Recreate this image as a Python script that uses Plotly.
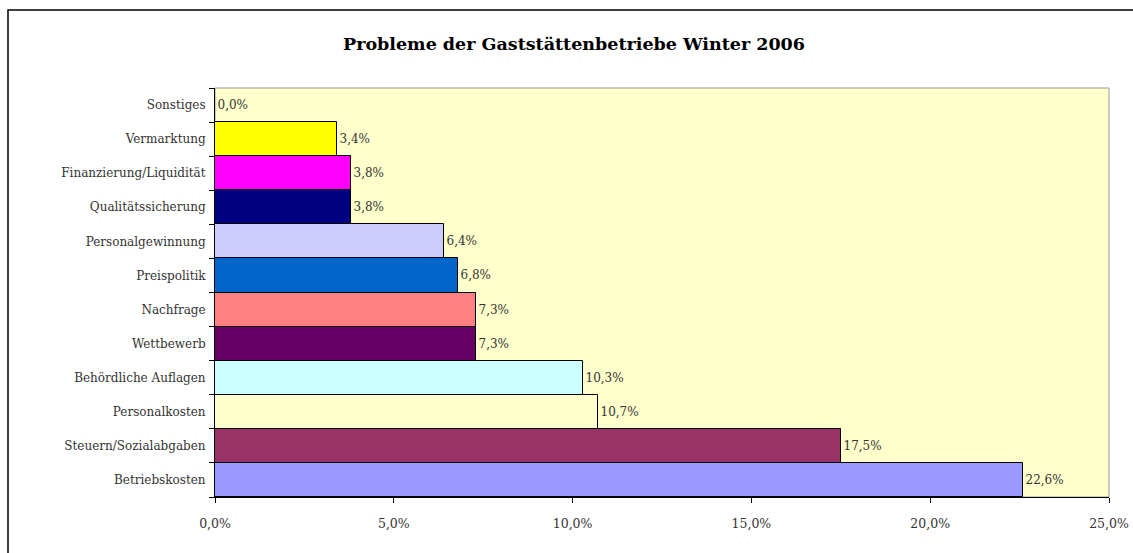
import plotly.graph_objects as go

categories = [
    "Betriebskosten",
    "Steuern/Sozialabgaben",
    "Personalkosten",
    "Behördliche Auflagen",
    "Wettbewerb",
    "Nachfrage",
    "Preispolitik",
    "Personalgewinnung",
    "Qualitätssicherung",
    "Finanzierung/Liquidität",
    "Vermarktung",
    "Sonstiges",
]
shares_pct = [22.6, 17.5, 10.7, 10.3, 7.3, 7.3, 6.8, 6.4, 3.8, 3.8, 3.4, 0.0]
bar_colors = [
    "#9999FF", "#993366", "#FFFFCC", "#CCFFFF", "#660066", "#FF8080",
    "#0066CC", "#CCCCFF", "#000080", "#FF00FF", "#FFFF00", "#00FFFF",
]
x_ticks = [0, 0.05, 0.10, 0.15, 0.20, 0.25]

W, H = 1133, 553
L, R, T, B = 215, 1109, 88, 497
serif = "DejaVu Serif, Liberation Serif, serif"

fig = go.Figure(
    go.Bar(
        y=categories,
        x=[v / 100 for v in shares_pct],
        orientation="h",
        marker={"color": bar_colors, "line": {"color": "black", "width": 1}},
        texttemplate="%{x:.1%}",
        textposition="outside",
        textfont={"family": serif, "size": 12, "color": "#333"},
        cliponaxis=False,
        hoverinfo="skip",
    )
)

pw, ph = R - L, B - T
# outer chart frame, like the Excel chart area
fig.add_shape(
    type="rect", xref="paper", yref="paper",
    x0=(8 - L) / pw, x1=(W + 10 - L) / pw,
    y0=(B - H - 10) / ph, y1=(B - 10) / ph,
    line={"color": "black", "width": 1.5}, fillcolor="rgba(0,0,0,0)",
)
# grey plot-area border
fig.add_shape(
    type="rect", xref="paper", yref="paper", x0=0, x1=1, y0=0, y1=1,
    line={"color": "#999", "width": 1}, layer="below",
)

fig.update_layout(
    width=W,
    height=H,
    separators=",.",
    title={
        "text": "<b>Probleme der Gaststättenbetriebe Winter 2006</b>",
        "font": {"family": serif, "size": 17.5, "color": "black"},
        "x": 574 / W,
        "xanchor": "center",
        "y": 1 - 44 / H,
        "yanchor": "middle",
    },
    margin={"l": L, "r": W - R, "t": T, "b": H - B},
    paper_bgcolor="white",
    plot_bgcolor="#FFFFCC",
    bargap=0,
    showlegend=False,
)
fig.update_xaxes(
    range=[0, 0.25],
    tickvals=x_ticks,
    tickformat=".1%",
    showgrid=False,
    zeroline=False,
    showline=True,
    linecolor="black",
    ticks="outside",
    ticklen=5,
    tickcolor="black",
    ticklabelstandoff=10,
    automargin=False,
    tickfont={"family": serif, "size": 12.5, "color": "#333"},
)
fig.update_yaxes(
    showgrid=False,
    showline=True,
    linecolor="black",
    ticks="outside",
    tickson="boundaries",
    ticklen=5,
    tickcolor="black",
    ticklabelstandoff=6,
    automargin=False,
    tickfont={"family": serif, "size": 12, "color": "#333"},
)

# drop the browser's default body margin so pixel positions line up
fig.write_html(
    "out.html",
    config={"displayModeBar": False},
    post_script="document.body.style.margin='0';",
)
